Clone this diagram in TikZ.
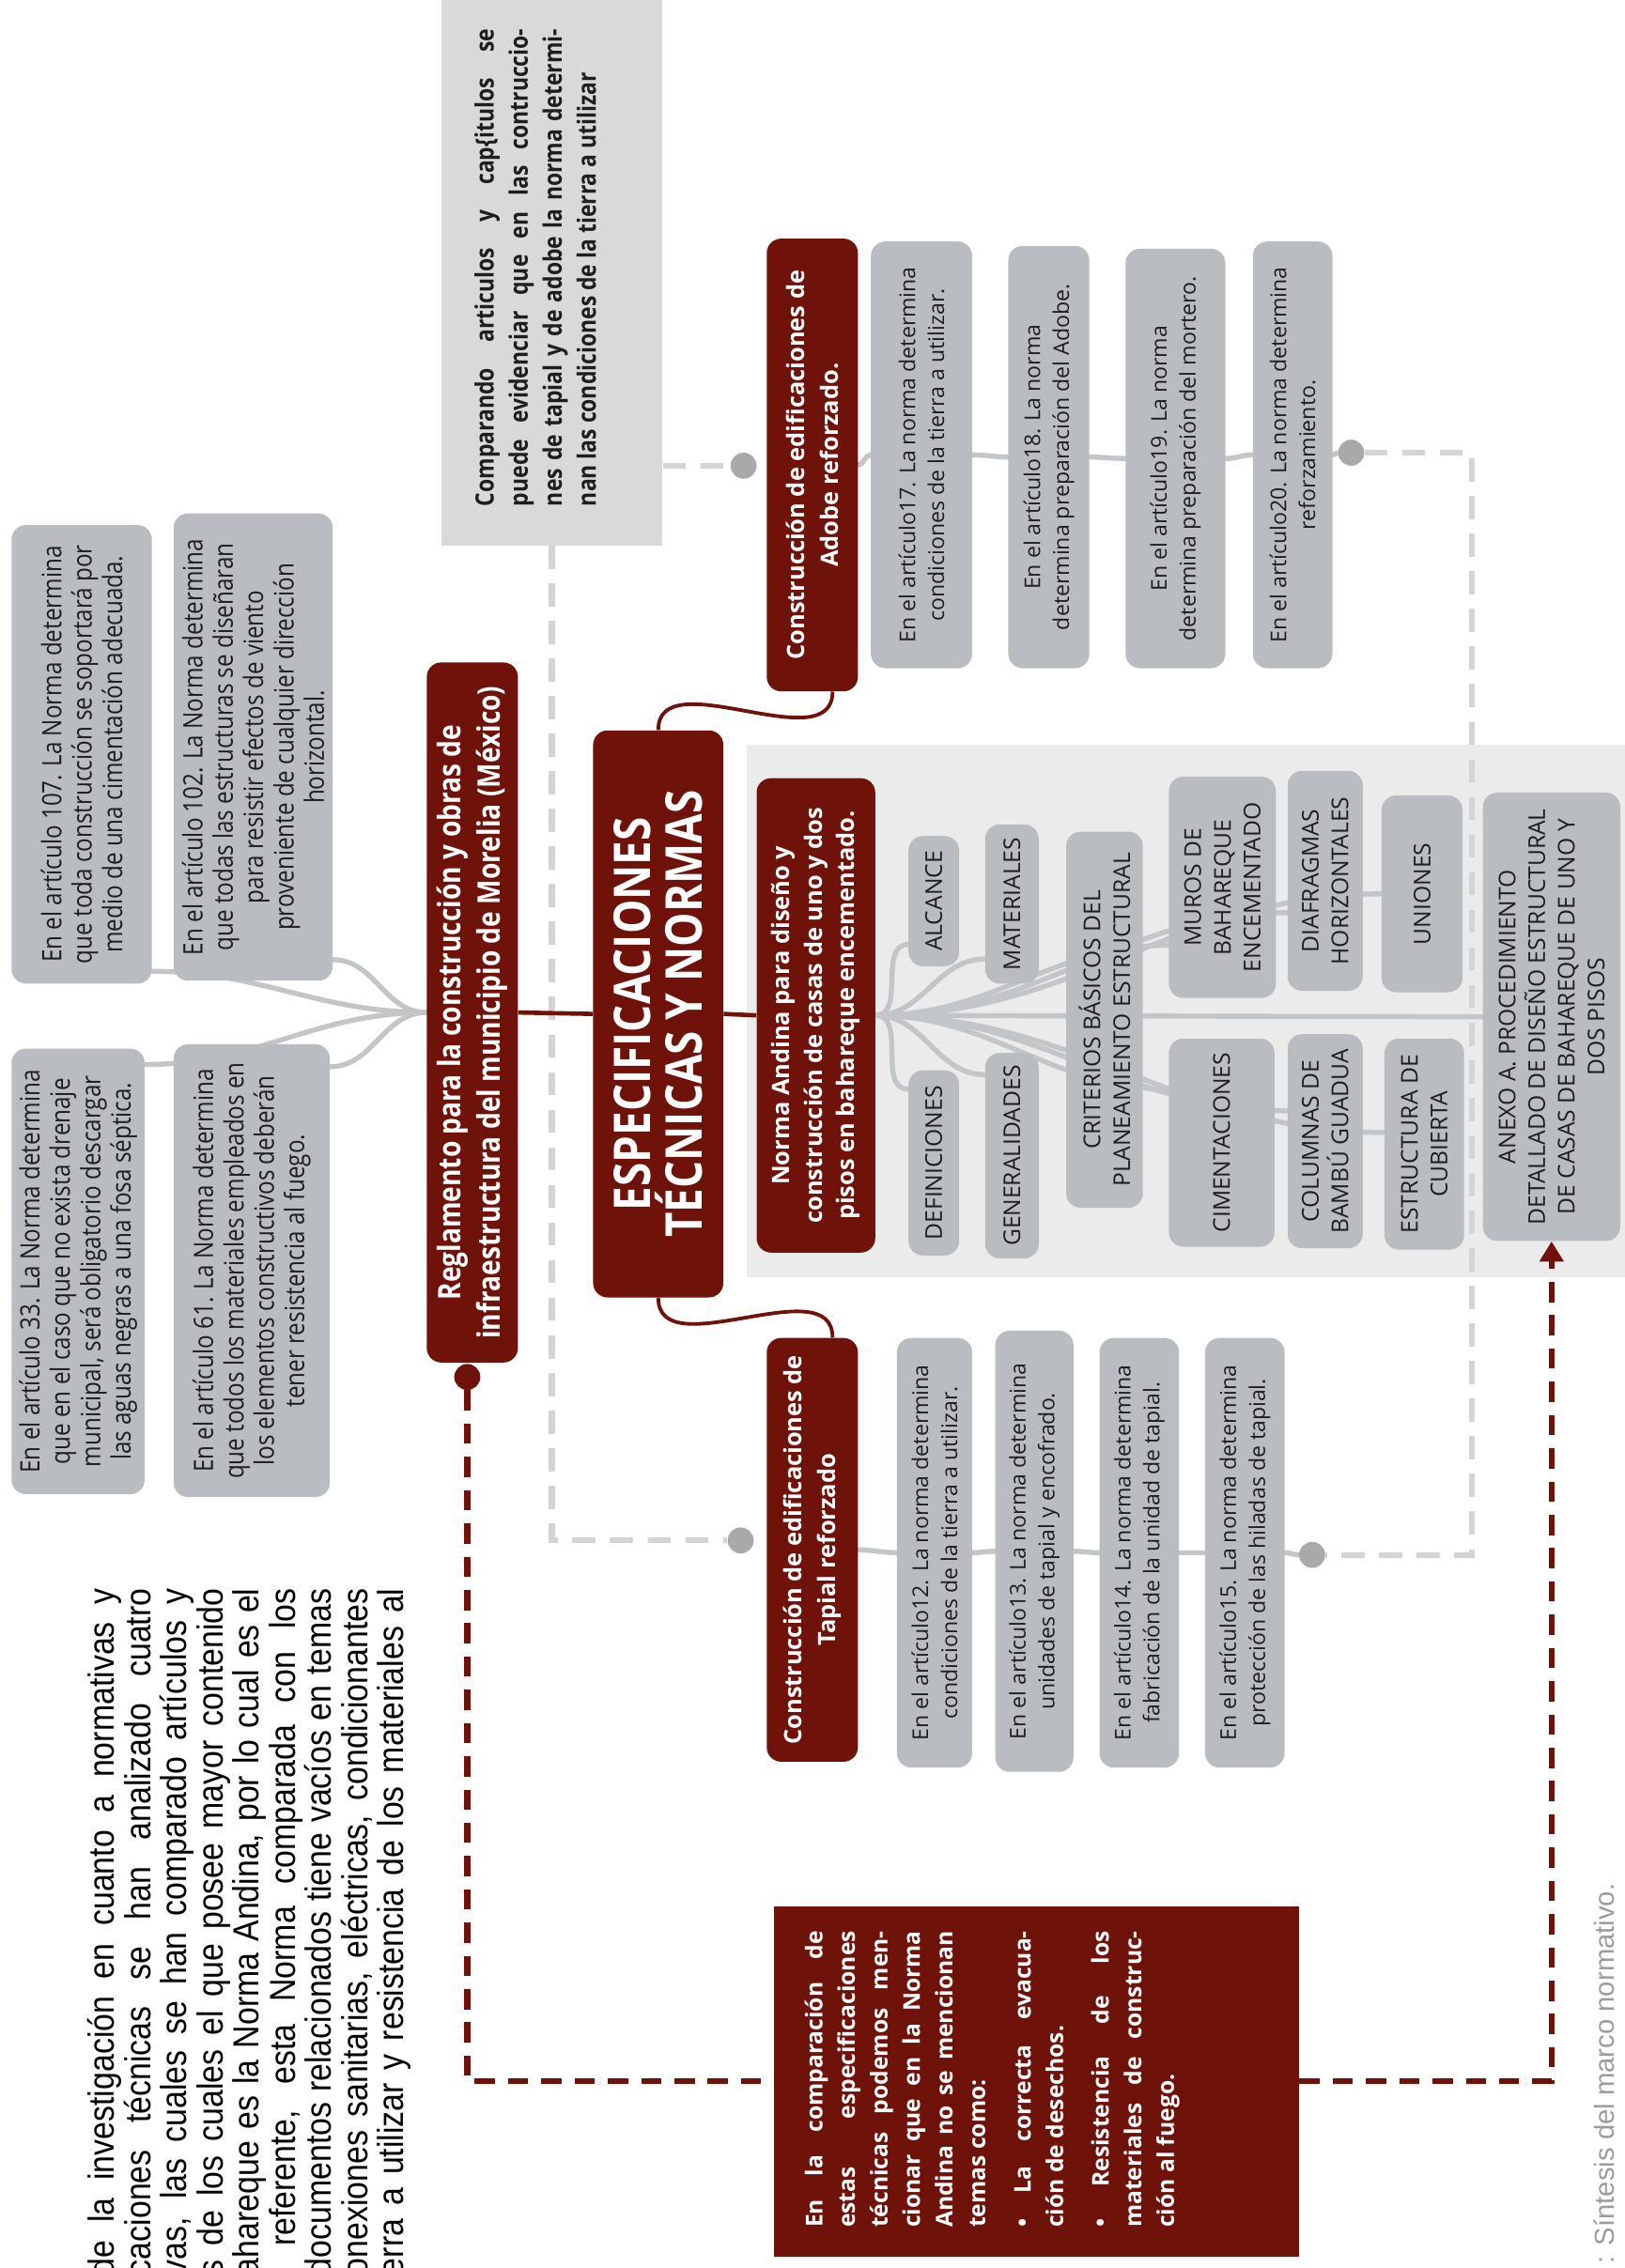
\documentclass[tikz,border=0pt]{standalone}
\usepackage{fontspec}
\setmainfont{Open Sans}
\newfontfamily\condfont[FakeStretch=0.85]{Open Sans}
\newfontfamily\parafont[FakeStretch=0.88]{Liberation Sans}
\newfontfamily\arialfont{Liberation Sans}
\usetikzlibrary{arrows.meta,calc}
\definecolor{vino}{HTML}{6F1209}
\definecolor{gbox}{HTML}{B9BCC0}
\definecolor{gline}{HTML}{C3C6C9}
\definecolor{gdash}{HTML}{D4D4D4}
\definecolor{gdot}{HTML}{A9A9A9}
\definecolor{gfondo}{HTML}{EBEBEB}
\definecolor{gcomp}{HTML}{D9D9D9}
\definecolor{gtexto}{HTML}{1E1E1E}
\definecolor{gpie}{HTML}{9C9C9C}
\newcommand{\renglon}[2]{\makebox[#1pt][s]{#2}}
\pgfdeclarelayer{fondo}
\pgfdeclarelayer{lineas}
\pgfsetlayers{fondo,lineas,main}

\begin{document}
\begin{tikzpicture}[x=1pt, y=1pt, rotate=90, transform shape,
    caja/.style={rectangle, rounded corners=10pt, fill=gbox, text=gtexto, align=center, inner sep=0pt},
    cajar/.style={rectangle, rounded corners=10pt, fill=vino, text=white, align=center, inner sep=0pt},
    tam/.style 2 args={minimum width=#1pt, minimum height=#2pt},
    norma/.style={caja, font=\condfont\fontsize{18.5}{21}\selectfont},
    art/.style={caja, font=\fontsize{15}{20}\selectfont},
    tema/.style={caja, font=\fontsize{16}{20.5}\selectfont},
    cabeza/.style={cajar, font=\bfseries\fontsize{16.5}{23}\selectfont},
    rama/.style={draw=gline, line width=3.5pt, line cap=round},
    ramar/.style={draw=vino, line width=2.5pt},
    guion/.style={draw=gdash, line width=4pt, dash pattern=on 16pt off 10pt},
    guionr/.style={draw=vino, line width=4pt, dash pattern=on 14pt off 9pt},
    punto/.style={circle, fill=gdot, minimum size=18pt, inner sep=0pt}]

\useasboundingbox (0,0) rectangle (1568,1123);
\begin{pgfonlayer}{fondo}
  \fill[white] (0,0) rectangle (1568,1123);
  \fill[gfondo] (685,0) rectangle (1053,607);
\end{pgfonlayer}

% texto de la izquierda, cortado por el borde
\foreach \texto [count=\i] in {{de la investigación en cuanto a normativas y},
    {caciones técnicas se han analizado cuatro},
    {vas, las cuales se han comparado artículos y},
    {s de los cuales el que posee mayor contenido},
    {ahareque es la Norma Andina, por lo cual es el},
    {l referente, esta Norma comparada con los},
    {documentos relacionados tiene vacíos en temas},
    {onexiones sanitarias, eléctricas, condicionantes},
    {erra a utilizar y resistencia de los materiales al}}
  \node[anchor=base east, inner sep=0pt, font=\parafont\fontsize{25}{25}\selectfont] (p\i) at (470,{1069-25*\i}) {\renglon{475}{\texto}};

% reglamento de Morelia
\node[norma, tam={317}{97}] (a107) at (1046.5,1066.5) {En el artículo 107. La Norma determina\\que toda construcción se soportará por\\medio de una cimentación adecuada.};
\node[norma, tam={323}{110}] (a102) at (1051.5,948) {En el artículo 102. La Norma determina\\que todas las estructuras se diseñaran\\para resistir efectos de viento\\proveniente de cualquier dirección\\horizontal.};
\node[norma, tam={308}{92}] (a33) at (689,1069) {En el artículo 33. La Norma determina\\que en el caso que no exista drenaje\\municipal, será obligatorio descargar\\las aguas negras a una fosa séptica.};
\node[norma, tam={313}{108}] (a61) at (689.5,949) {En el artículo 61. La Norma determina\\que todos los materiales empleados en\\los elementos constructivos deberán\\tener resistencia al fuego.};
\node[cajar, tam={484}{63}, font=\condfont\bfseries\fontsize{21.5}{27}\selectfont] (reg) at (868,796.5) {Reglamento para la construcción y obras de\\infraestructura del municipio de Morelia (México)};
\node[circle, fill=vino, minimum size=18pt, inner sep=0pt] (puntorojo) at (616,800) {};

% titulo
\node[cajar, tam={392}{90}, font=\condfont\bfseries\fontsize{35}{36}\selectfont] (titulo) at (867,668) {ESPECIFICACIONES\\TÉCNICAS Y NORMAS};

% comparacion
\node[fill=gcomp, tam={377}{153}, inner sep=0pt] (comp) at (1379.5,741.5) {};
\node[align=left, inner sep=0pt, text=gtexto, font=\condfont\bfseries\fontsize{17.5}{23.5}\selectfont] (comptxt) at (1383,753) {\renglon{330}{Comparando articulos y cap\{itulos se}\\\renglon{330}{puede evidenciar que en las contruccio-}\\\renglon{330}{nes de tapial y de adobe la norma determi-}\\nan las condiciones de la tierra a utilizar};

% adobe
\node[cabeza, tam={313}{63}] (adobe) at (1246.5,561.5) {Construcción de edificaciones de\\Adobe reforzado.};
\node[art, tam={295}{70}] (a17) at (1253.5,486) {En el artículo17. La norma determina\\condiciones de la tierra a utilizar.};
\node[art, tam={292}{56}] (a18) at (1252,398) {En el artículo18. La norma\\determina preparación del Adobe.};
\node[art, tam={290}{69}] (a19) at (1251,310.5) {En el artículo19. La norma\\determina preparación del mortero.};
\node[art, tam={295}{55}] (a20) at (1253.5,229.5) {En el artículo20. La norma determina\\reforzamiento.};

% tapial
\node[cabeza, tam={293}{63}] (tap) at (496.5,561.5) {Construcción de edificaciones de\\Tapial reforzado};
\node[art, tam={297}{52}] (t12) at (494.5,477) {En el artículo12. La norma determina\\condiciones de la tierra a utilizar.};
\node[art, tam={305}{54}] (t13) at (495.5,408) {En el artículo13. La norma determina\\unidades de tapial y encofrado.};
\node[art, tam={297}{55}] (t14) at (494.5,335.5) {En el artículo14. La norma determina\\fabricación de la unidad de tapial.};
\node[art, tam={297}{55}] (t15) at (494.5,262.5) {En el artículo15. La norma determina\\protección de las hiladas de tapial.};

\node[punto] (dotAw) at (1246,609) {};
\node[punto] (dotTw) at (503,611) {};
\node[punto] (dotAe) at (1255,189) {};
\node[punto] (dotTe) at (493,216) {};

% norma andina
\node[cajar, tam={328}{82}, font=\bfseries\fontsize{16.5}{22.5}\selectfont] (na) at (866,559) {Norma Andina para diseño y\\construcción de casas de uno y dos\\pisos en bahareque encementado.};
\node[tema, tam={90}{35}] (alc) at (945,477.5) {ALCANCE};
\node[tema, tam={128}{35}] (defi) at (764,477.5) {DEFINICIONES};
\node[tema, tam={110}{37}] (mat) at (943,423.5) {MATERIALES};
\node[tema, tam={142}{37}] (gen) at (769,423.5) {GENERALIDADES};
\node[tema, tam={260}{53}] (crit) at (863,359.5) {CRITERIOS BÁSICOS DEL\\PLANEAMIENTO ESTRUCTURAL};
\node[tema, tam={153}{74}] (muros) at (954.5,278) {MUROS DE\\BAHAREQUE\\ENCEMENTADO};
\node[tema, tam={144}{73}] (cim) at (778,278.5) {CIMENTACIONES};
\node[tema, tam={152}{52}] (diaf) at (959,207) {DIAFRAGMAS\\HORIZONTALES};
\node[tema, tam={148}{52}] (col) at (779,207) {COLUMNAS DE\\BAMBÚ GUADUA};
\node[tema, tam={136}{56}] (uni) at (950,140) {UNIONES};
\node[tema, tam={146}{55}] (est) at (777,138.5) {ESTRUCTURA DE\\CUBIERTA};
\node[tema, tam={310}{95}] (anexo) at (865,50.5) {ANEXO A. PROCEDIMIENTO\\DETALLADO DE DISEÑO ESTRUCTURAL\\DE CASAS DE BAHAREQUE DE UNO Y\\DOS PISOS};

% conclusion
\node[fill=vino, tam={242}{363}, inner sep=0pt] (cajaroja) at (129,406.5) {};
\node[anchor=north, align=left, inner sep=0pt, text=white, font=\bfseries\fontsize{16}{22.5}\selectfont] (rojotxt) at (130.5,567) {\renglon{205}{En la comparación de}\\\renglon{205}{estas especificaciones}\\\renglon{205}{técnicas podemos men-}\\\renglon{205}{cionar que en la Norma}\\\renglon{205}{Andina no se mencionan}\\temas como:\\[9pt]\renglon{205}{• La correcta evacua-}\\ción de desechos.\\[9pt]\renglon{205}{• Resistencia de los}\\\renglon{205}{materiales de construc-}\\ción al fuego.};

\node[anchor=base east, inner sep=0pt, text=gpie, font=\arialfont\fontsize{19}{19}\selectfont] (pie) at (266,7) {: Síntesis del marco normativo.};

\begin{pgfonlayer}{lineas}
  % ramas grises
  \foreach \dest/\dx in {a107/-150, a102/-147, a33/143, a61/141}
    \draw[rama] (reg.north) to[out=90,in=-90] ($(\dest.south)+(\dx,0)$);
  \foreach \dest/\dx in {alc/-30, mat/-38, muros/-40, diaf/-22, uni/0, defi/51, gen/56, cim/37, col/21, est/8}
    \draw[rama] (na.south) to[out=-90,in=90] ($(\dest.north)+(\dx,0)$);
  \draw[rama] (na.south) -- (anexo.north);
  \foreach \a/\b in {adobe/a17, a17/a18, a18/a19, a19/a20, a20/dotAe, tap/t12, t12/t13, t13/t14, t14/t15, t15/dotTe}
    \draw[rama] (\a.south) to[out=-90,in=90] (\b.north);
  % lineas discontinuas
  \draw[guion] (dotAw.north |- comp.south) -- (dotAw.north);
  \draw[guion] (comp.west) -| (dotTw.north);
  \draw[guion] (dotAe.south) -- ++(0,-74) -| (dotTe.south);
  \draw[guionr] (puntorojo.west) -| (cajaroja.north);
  \draw[guionr, -{Triangle[length=14pt, width=16pt]}] (cajaroja.south) |- (anexo.west);
  % ramas rojas
  \draw[ramar, line width=3pt] (reg.south) -- (titulo.north);
  \draw[ramar, line width=3pt] (titulo.south) -- (na.north);
  \draw[ramar] (titulo.east) to[out=0,in=180] ($(adobe.west)+(0,-14)$);
  \draw[ramar] (titulo.west) to[out=180,in=0] ($(tap.east)+(0,-14)$);
\end{pgfonlayer}
\end{tikzpicture}
\end{document}
